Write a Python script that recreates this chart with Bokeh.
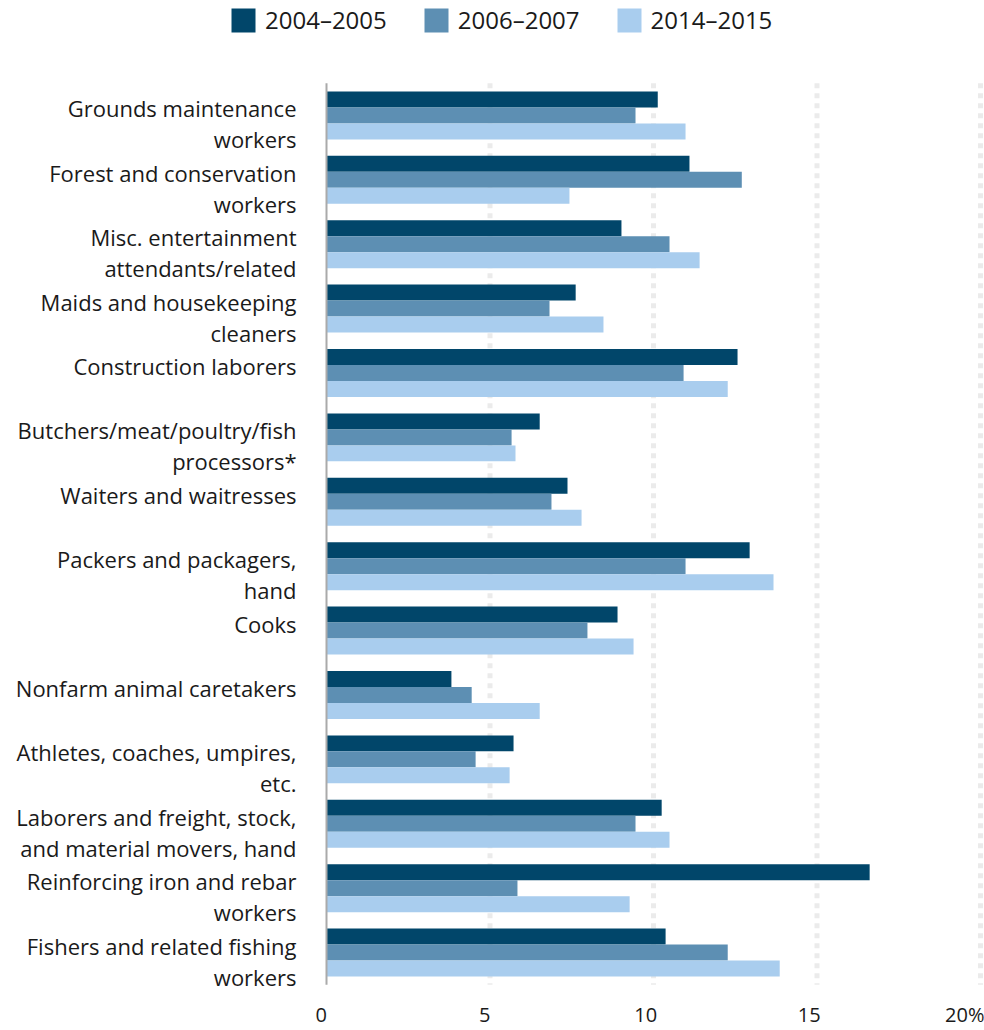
from bokeh.plotting import figure
from bokeh.models import Range1d, FixedTicker, Legend, LegendItem, ColumnDataSource
from bokeh.transform import dodge
from bokeh.core.properties import value
from bokeh.embed import file_html
from bokeh.resources import INLINE

categories = [
    "Grounds maintenance\nworkers",
    "Forest and conservation\nworkers",
    "Misc. entertainment\nattendants/related",
    "Maids and housekeeping\ncleaners",
    "Construction laborers",
    "Butchers/meat/poultry/fish\nprocessors*",
    "Waiters and waitresses",
    "Packers and packagers,\nhand",
    "Cooks",
    "Nonfarm animal caretakers",
    "Athletes, coaches, umpires,\netc.",
    "Laborers and freight, stock,\nand material movers, hand",
    "Reinforcing iron and rebar\nworkers",
    "Fishers and related fishing\nworkers",
]
series = ["2004\u20132005", "2006\u20132007", "2014\u20132015"]
v2004 = [10.13, 11.10, 9.02, 7.62, 12.57, 6.52, 7.37, 12.94, 8.90, 3.82, 5.72, 10.25, 16.61, 10.37]
v2006 = [9.45, 12.70, 10.49, 6.82, 10.92, 5.66, 6.88, 10.98, 7.98, 4.44, 4.56, 9.45, 5.84, 12.27]
v2014 = [10.98, 7.43, 11.41, 8.47, 12.27, 5.78, 7.80, 13.67, 9.39, 6.52, 5.60, 10.49, 9.27, 13.86]
x_ticks = [0, 5, 10, 15, 20]
x_tick_labels = ["0", "5", "10", "15", "20%"]
grid_ticks = [5, 10, 15, 20]

colors = ["#01466a", "#5d8fb3", "#a9cdee"]
FONT = "Open Sans"
NB = "\u00a0"

W, H = 984, 1030
bot_b = 39
frame_h = H - bot_b
px_per_unit = 32.7
zero_px = 326
x_start = -zero_px / px_per_unit
x_end = (W - zero_px) / px_per_unit

n = len(categories)
unit_px = 64.46
groups_top = 82.8
y_top = -0.5 - groups_top / unit_px
y_bot = -0.5 + (frame_h - groups_top) / unit_px

idx = list(range(n))
line1 = [c.split("\n")[0] for c in categories]
line2 = [c.split("\n")[1] if "\n" in c else "" for c in categories]

src = ColumnDataSource(dict(idx=idx, v2004=v2004, v2006=v2006, v2014=v2014,
                            line1=line1, line2=line2))

p = figure(width=W, height=H, output_backend="svg", toolbar_location=None,
           x_range=Range1d(x_start, x_end),
           y_range=Range1d(y_bot, y_top),
           y_axis_location=None,
           min_border_left=0, min_border_right=0, min_border_top=0, min_border_bottom=bot_b)
p.outline_line_color = None
p.background_fill_color = "white"
p.xgrid.grid_line_color = None
p.ygrid.grid_line_color = None

# dotted gridlines spanning the category block only
p.segment(x0=grid_ticks, x1=grid_ticks, y0=[-0.5] * len(grid_ticks), y1=[n - 0.5] * len(grid_ticks),
          line_color="#ebebeb", line_width=5, line_dash="5 5")

bh = 16.0 / unit_px
renderers = []
for vals, off, col in zip(["v2004", "v2006", "v2014"], [-bh, 0, bh], colors):
    r = p.hbar(y=dodge("idx", off), left=0, right=vals, height=bh,
               source=src, fill_color=col, line_color=None)
    renderers.append(r)

# baseline at zero
p.segment(x0=[0], x1=[0], y0=[-0.5], y1=[n - 0.5], line_color="#aaaaaa", line_width=2)

# category labels
lab_x = -30 / px_per_unit
p.text(x=lab_x, y="idx", text="line1", source=src, text_align="right", text_baseline="alphabetic",
       y_offset=-7, text_font=value(FONT), text_font_size="22px", text_color="#1a1a1a")
p.text(x=lab_x, y="idx", text="line2", source=src, text_align="right", text_baseline="alphabetic",
       y_offset=24, text_font=value(FONT), text_font_size="22px", text_color="#1a1a1a")

# x axis
pads = [2, 2, 3, 3, 0]
ax = p.xaxis[0]
ax.ticker = FixedTicker(ticks=x_ticks)
ax.major_label_overrides = {t: l + NB * k for t, l, k in zip(x_ticks, x_tick_labels, pads)}
ax.axis_line_color = None
ax.major_tick_line_color = None
ax.minor_tick_line_color = None
ax.major_tick_out = 0
ax.major_tick_in = 0
ax.minor_tick_out = 0
ax.minor_tick_in = 0
ax.major_label_text_font = FONT
ax.major_label_text_font_size = "20px"
ax.major_label_text_color = "#1a1a1a"
ax.major_label_standoff = 10

legend = Legend(items=[LegendItem(label=s, renderers=[r]) for s, r in zip(series, renderers)],
                orientation="horizontal", location=(228, frame_h - 37),
                glyph_width=30, glyph_height=30, spacing=34, padding=0, margin=0,
                label_standoff=7, label_text_font=FONT, label_text_font_size="24px",
                label_text_color="#1a1a1a", border_line_color=None, background_fill_alpha=0)
p.add_layout(legend, "center")

open("out.html", "w").write(file_html(p, INLINE))
